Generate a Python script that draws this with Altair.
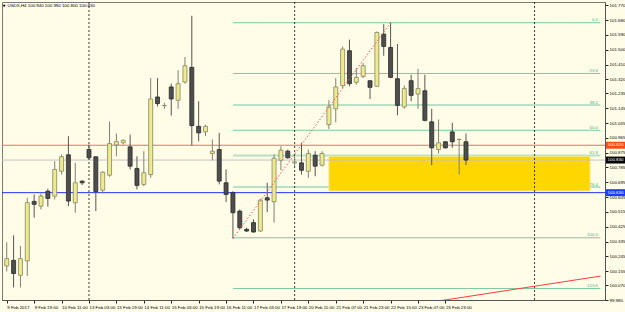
import altair as alt
import pandas as pd

# ---------------- data ----------------
bar_index = list(range(68))
open_ = [100.187, 100.221, 100.130, 100.217, 100.579, 100.550, 100.641, 100.611, 100.762, 100.862,
         100.571, 100.702, 100.894, 100.850, 100.647, 100.738, 100.922, 100.935, 100.910, 100.779,
         100.682, 100.742, 101.213, 101.161, 101.274, 101.193, 101.304, 101.393, 101.035, 101.001,
         100.870, 100.894, 100.692, 100.632, 100.520, 100.409, 100.450, 100.399, 100.601, 100.577,
         100.829, 100.884, 100.813, 100.813, 100.762, 100.859, 100.799, 101.045, 101.141, 101.282,
         101.494, 101.302, 101.338, 101.312, 101.278, 101.595, 101.514, 101.324, 101.153, 101.312,
         101.231, 101.251, 101.062, 100.894, 100.941, 101.001, 100.955, 100.941]
high = [100.330, 100.373, 100.308, 100.601, 100.621, 100.627, 100.656, 100.823, 100.864, 100.975,
        100.813, 100.706, 100.924, 100.852, 100.762, 101.065, 100.991, 100.955, 100.985, 100.853,
        100.884, 101.328, 101.328, 101.177, 101.294, 101.375, 101.456, 101.706, 101.187, 101.045,
        100.955, 100.995, 100.773, 100.641, 100.530, 100.419, 100.470, 100.595, 100.692, 100.864,
        100.914, 100.894, 100.853, 100.935, 100.894, 100.884, 100.884, 101.193, 101.328, 101.520,
        101.561, 101.389, 101.419, 101.312, 101.611, 101.655, 101.664, 101.535, 101.282, 101.348,
        101.383, 101.348, 101.141, 101.076, 100.945, 101.056, 100.961, 100.991]
low = [100.154, 100.056, 100.056, 100.126, 100.480, 100.530, 100.547, 100.591, 100.742, 100.550,
       100.510, 100.678, 100.833, 100.520, 100.627, 100.728, 100.853, 100.924, 100.773, 100.652,
       100.671, 100.722, 101.156, 101.141, 101.100, 101.141, 101.294, 100.918, 100.944, 100.975,
       100.829, 100.682, 100.575, 100.353, 100.409, 100.393, 100.389, 100.393, 100.514, 100.450,
       100.768, 100.838, 100.793, 100.742, 100.722, 100.732, 100.791, 101.019, 101.059, 101.268,
       101.278, 101.288, 101.328, 101.201, 101.274, 101.464, 101.328, 101.102, 101.142, 101.187,
       101.141, 101.065, 100.799, 100.870, 100.900, 100.904, 100.742, 100.799]
close = [100.231, 100.141, 100.231, 100.571, 100.561, 100.611, 100.597, 100.773, 100.850, 100.581,
         100.692, 100.692, 100.844, 100.638, 100.756, 100.930, 100.942, 100.950, 100.793, 100.676,
         100.753, 101.201, 101.173, 101.161, 101.201, 101.294, 101.403, 101.039, 100.995, 101.035,
         100.884, 100.702, 100.621, 100.510, 100.419, 100.399, 100.393, 100.587, 100.587, 100.841,
         100.890, 100.844, 100.819, 100.768, 100.870, 100.793, 100.870, 101.153, 101.274, 101.504,
         101.294, 101.332, 101.403, 101.272, 101.605, 101.520, 101.332, 101.162, 101.264, 101.223,
         101.264, 101.071, 100.904, 100.935, 100.904, 100.941, 100.955, 100.830]

time_label_bars = [0, 4, 8, 12, 16, 20, 24, 28, 32, 36, 40, 44, 48, 52, 56, 60, 64]
time_labels = ["9 Feb 2017", "9 Feb 19:00", "10 Feb 11:00", "13 Feb 03:00", "13 Feb 19:00",
               "14 Feb 11:00", "15 Feb 03:00", "15 Feb 19:00", "16 Feb 11:00", "17 Feb 03:00",
               "17 Feb 19:00", "20 Feb 11:00", "21 Feb 07:00", "21 Feb 23:00", "22 Feb 15:00",
               "23 Feb 07:00", "23 Feb 23:00"]

price_ticks = [101.770, 101.680, 101.590, 101.500, 101.410, 101.320, 101.235, 101.145, 101.055,
               100.965, 100.875, 100.785, 100.695, 100.605, 100.515, 100.425, 100.335, 100.245,
               100.155, 100.070, 99.980]

level_prices = [100.920, 100.632]
level_colors = ["#ff6a50", "#2233ff"]
bid_price = [100.830]

badge_prices = [100.920, 100.830, 100.632]
badge_texts = ["100.920", "100.830", "100.630"]
badge_colors = ["#ff4a14", "#000000", "#1a3cff"]

fib_texts = ["0.0", "23.6", "38.2", "50.0", "61.8", "76.4", "100.0", "123.6"]
fib_prices = [101.664, 101.356, 101.165, 101.011, 100.857, 100.666, 100.358, 100.050]
fib_strong = [True, True, False, True, False, False, True, True]
fib_start_bar = [33]
fib_end_bar = [86.6]

zone_bars = [47, 85.1]
zone_prices = [100.642, 100.853]

separator_bars = [12, 42, 77]
swing_bars = [33, 56]
swing_prices = [100.353, 101.664]
trend_bars = [61.6, 86.6]
trend_prices = [99.965, 100.125]

title_text = "USDX,H4  100.940 100.990 100.800 100.830"

# ---------------- build tables ----------------
candles = pd.DataFrame({"i": bar_index, "open": open_, "high": high, "low": low, "close": close})
candles["dir"] = ["up" if c >= o else "down" for o, c in zip(open_, close)]

fib = pd.DataFrame({"p": fib_prices, "t": fib_texts, "strong": fib_strong})
fib["x1"] = fib_start_bar[0]
fib["x2"] = fib_end_bar[0]

FONT = "Liberation Sans"
FS = 4.4

xscale = alt.Scale(domain=[0.04, 86.55], nice=False, zero=False)
yscale = alt.Scale(domain=[99.98, 101.79], nice=False, zero=False)

arr = "[" + ",".join("'%s'" % t for t in time_labels) + "]"
bars_arr = "[" + ",".join(str(b) for b in time_label_bars) + "]"
xaxis = alt.Axis(values=time_label_bars, labelExpr=f"{arr}[indexof({bars_arr}, datum.value)]",
                 labelAlign="left", labelBaseline="top", labelPadding=2,
                 labelFontSize=FS, labelFont=FONT, labelColor="#000", tickSize=3,
                 tickColor="#222", domainColor="#555", grid=False, title=None,
                 labelOverlap=False, labelFlush=False, labelBound=False)
yaxis = alt.Axis(orient="right", values=price_ticks, format=".3f", labelFontSize=FS,
                 labelFont=FONT, labelColor="#000", tickSize=3, tickColor="#222",
                 labelPadding=1, domainColor="#555", grid=False, title=None,
                 labelOverlap=False, labelFlush=False, labelBound=False)

X = lambda f: alt.X(f, type="quantitative", scale=xscale, axis=xaxis)
Y = lambda f: alt.Y(f, type="quantitative", scale=yscale, axis=yaxis)

levels = alt.Chart(pd.DataFrame({"p": level_prices, "c": level_colors})).mark_rule(strokeWidth=1).encode(
    y=Y("p"), color=alt.Color("c:N", scale=None))

fib_lines = alt.Chart(fib).mark_rule(clip=True).encode(
    x=X("x1"), x2="x2", y=Y("p"),
    color=alt.condition("datum.strong", alt.value("#7ec9a0"), alt.value("#b8e2c6")),
    strokeWidth=alt.condition("datum.strong", alt.value(1), alt.value(2)))

zone = alt.Chart(pd.DataFrame({"x1": [zone_bars[0]], "x2": [zone_bars[1]],
                               "y1": [zone_prices[0]], "y2": [zone_prices[1]]})).mark_rect(
    color="#ffd700", stroke="#f3e79a", strokeWidth=1).encode(x=X("x1"), x2="x2", y=Y("y1"), y2="y2")

bid = alt.Chart(pd.DataFrame({"p": bid_price})).mark_rule(color="#c4c4c4", strokeWidth=1).encode(y=Y("p"))

seps = alt.Chart(pd.DataFrame({"i": separator_bars})).mark_rule(
    color="#222222", strokeWidth=0.9, strokeDash=[2, 2]).encode(x=X("i"))

fib_labels = alt.Chart(fib).mark_text(align="right", baseline="bottom", dy=-0.3,
                                      fontSize=FS, font=FONT, color="#4fb07e").encode(
    x=alt.value(596), y=Y("p"), text="t:N")

wicks = alt.Chart(candles).mark_rule(strokeWidth=1, clip=True).encode(
    x=X("i"), y=Y("low"), y2="high:Q",
    color=alt.Color("dir:N", scale=alt.Scale(domain=["up", "down"], range=["#808074", "#555555"]), legend=None))

bodies = alt.Chart(candles).mark_bar(size=4, strokeWidth=0.8, clip=True).encode(
    x=X("i"), y=Y("open"), y2="close",
    fill=alt.Fill("dir:N", scale=alt.Scale(domain=["up", "down"], range=["#f2e88e", "#4e4e4e"]), legend=None),
    stroke=alt.Stroke("dir:N", scale=alt.Scale(domain=["up", "down"], range=["#7d8a66", "#2a2a2a"]), legend=None))

swing = alt.Chart(pd.DataFrame({"i": swing_bars, "p": swing_prices})).mark_line(
    color="#ff5050", strokeWidth=1, strokeDash=[1.5, 2], clip=True).encode(x=X("i"), y=Y("p"))

trend = alt.Chart(pd.DataFrame({"i": trend_bars, "p": trend_prices})).mark_line(
    color="#ff3c3c", strokeWidth=1, clip=True).encode(x=X("i"), y=Y("p"))

badges_df = pd.DataFrame({"p": badge_prices, "t": badge_texts, "c": badge_colors})
badge_rects = alt.Chart(badges_df).transform_calculate(
    lo="datum.p - 0.021", hi="datum.p + 0.021").mark_rect().encode(
    x=alt.value(604), x2=alt.value(623), y=Y("lo:Q"), y2="hi:Q", color=alt.Color("c:N", scale=None))
badge_text = alt.Chart(badges_df).mark_text(align="left", baseline="middle", fontSize=FS,
                                            font=FONT, color="white").encode(
    x=alt.value(605.5), y=Y("p"), text="t:N")

title = alt.Chart(pd.DataFrame({"t": [title_text]})).mark_text(
    align="left", baseline="middle", fontSize=FS, font=FONT, color="#000").encode(
    x=alt.value(5.5), y=alt.value(3.5), text="t:N")
tri = alt.Chart(pd.DataFrame({"t": ["\u25BC"]})).mark_text(
    align="left", baseline="middle", fontSize=3.5, font="DejaVu Sans", color="#000").encode(
    x=alt.value(0.8), y=alt.value(3.5), text="t:N")

chart = alt.layer(
    levels, fib_lines, zone, bid, seps, fib_labels, wicks, bodies, swing, trend,
    badge_rects, badge_text, title, tri
).properties(
    width=603, height=298,
    padding={"left": 2, "top": 2, "right": 20, "bottom": 12},
    autosize=alt.AutoSizeParams(type="none"),
    background="#fffde8"
).configure_view(stroke="#7a7a7a", strokeWidth=1)

chart.save("out.html", embed_options={"renderer": "svg", "actions": False})
